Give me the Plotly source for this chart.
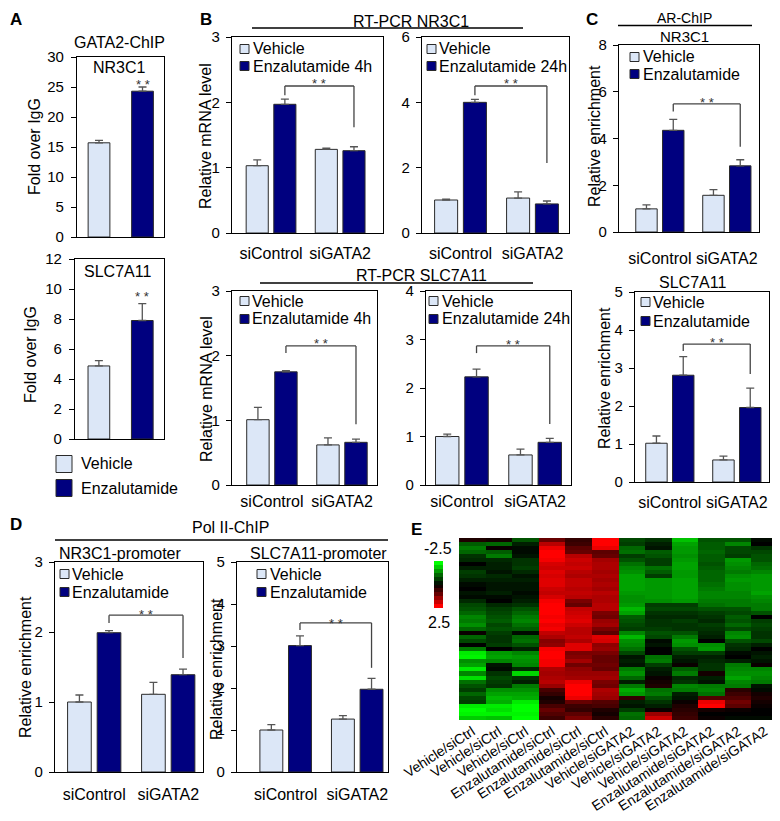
import plotly.graph_objects as go

W, H = 780, 821          # browser window
OX, OY = 8, 8            # default page margin of the html body
FW, FH = W - OX, H - OY  # figure size so that it fits the window exactly
FONT = "Liberation Sans, Arial, sans-serif"
LIGHT = "#DCE7F7"
DARK = "#00007F"
EDGE = "#2a2a2a"
ERRC = "#555555"
SIGC = "#444444"

# ---------------- data ----------------
groups = ["siControl", "siGATA2"]
treatments = ["Vehicle", "Enzalutamide"]

# Panel A (GATA2-ChIP, fold over IgG)
a_nr3c1 = [15.7, 24.3]
a_nr3c1_err = [0.4, 0.7]
a_slc7a11 = [4.87, 7.9]
a_slc7a11_err = [0.35, 1.13]
a_star_y = [26.2, 9.8]

# Panel B (RT-PCR)
b1_veh = [1.03, 1.28]; b1_veh_err = [0.09, 0.02]
b1_enz = [1.97, 1.26]; b1_enz_err = [0.08, 0.06]
b2_veh = [1.01, 1.07]; b2_veh_err = [0.03, 0.19]
b2_enz = [4.00, 0.89]; b2_enz_err = [0.09, 0.09]
b3_veh = [1.01, 0.62]; b3_veh_err = [0.19, 0.11]
b3_enz = [1.75, 0.66]; b3_enz_err = [0.02, 0.05]
b4_veh = [1.00, 0.62]; b4_veh_err = [0.05, 0.12]
b4_enz = [2.23, 0.88]; b4_enz_err = [0.16, 0.08]

# Panel C (AR-ChIP)
c1_veh = [0.99, 1.57]; c1_veh_err = [0.17, 0.24]
c1_enz = [4.35, 2.83]; c1_enz_err = [0.47, 0.26]
c2_veh = [1.02, 0.58]; c2_veh_err = [0.19, 0.10]
c2_enz = [2.81, 1.96]; c2_enz_err = [0.49, 0.51]

# Panel D (Pol II-ChIP)
d1_veh = [1.00, 1.11]; d1_veh_err = [0.10, 0.17]
d1_enz = [1.99, 1.39]; d1_enz_err = [0.03, 0.08]
d2_veh = [1.00, 1.26]; d2_veh_err = [0.13, 0.08]
d2_enz = [3.01, 1.97]; d2_enz_err = [0.23, 0.26]

# significance brackets: [left end, top, right end, star level]
b1_sig = [2.11, 2.25, 1.62, 2.36]
b2_sig = [4.22, 4.50, 2.14, 4.71]
c1_sig = [5.16, 5.48, 3.65, 5.73]
b3_sig = [2.04, 2.15, 0.94, 2.26]
b4_sig = [2.72, 2.87, 1.26, 2.99]
c2_sig = [3.45, 3.63, 2.84, 3.79]
d1_sig = [2.13, 2.24, 1.63, 2.32]
d2_sig = [3.38, 3.55, 2.48, 3.65]

# Panel E heatmap (columns = samples, rows top to bottom)
heat_labels = ["Vehicle/siCtrl", "Vehicle/siCtrl", "Vehicle/siCtrl",
               "Enzalutamide/siCtrl", "Enzalutamide/siCtrl", "Enzalutamide/siCtrl",
               "Vehicle/siGATA2", "Vehicle/siGATA2", "Vehicle/siGATA2",
               "Enzalutamide/siGATA2", "Enzalutamide/siGATA2", "Enzalutamide/siGATA2"]
col01 = [0.3, -0.9, -1.2, -1.0, -0.5, -0.4, 0.0, -0.3, -0.6, -0.5, -0.3, -0.1, 0.0, -0.2, -0.1,
         -0.4, -0.7, -0.8, -1.0, -1.3, -1.2, -1.4, -1.0, 0.1, -1.0, -0.7, 0.0, -1.2, -2.3, -2.4,
         -1.4, -1.6, -2.3, -1.3, -2.2, -1.1, -0.8, -0.6, -1.0, -0.7, -0.6, -2.3, -2.5, -2.4, -2.0]
col02 = [0.2, -1.0, 0.1, -0.9, -1.2, -0.4, -0.3, -0.3, -0.2, -0.4, -0.3, -0.2, -0.2, -0.3, -0.1,
         0.0, -0.4, -0.6, -0.7, -0.8, -0.9, -0.7, -0.8, -0.6, -0.5, -0.5, -0.6, 0.0, -1.5, -1.6,
         -1.3, -0.2, -0.1, -0.5, -0.7, -0.6, -0.5, -1.4, -1.6, -1.8, -1.7, -2.3, -2.2, -2.4, -1.9]
col03 = [-0.8, -0.3, -0.1, -0.1, -0.2, -0.5, -0.5, -0.6, -0.4, -0.2, -0.3, -0.2, -0.2, -0.1, -0.2,
         -0.3, -0.5, -0.8, -1.0, -1.2, -1.3, -1.1, -0.9, -0.1, -1.0, -1.1, -0.8, -0.3, -1.3, -1.5,
         -1.4, -1.3, -0.4, -2.1, -0.5, -0.3, -1.2, -1.4, -1.6, -1.7, -2.3, -2.5, -2.5, -2.4, -2.5]
col04 = [1.0, 1.8, 2.3, 2.5, 2.5, 2.4, 2.1, 2.0, 2.2, 2.1, 2.2, 2.2, 2.0, 1.9, 2.1,
         2.4, 2.5, 2.5, 2.5, 2.4, 2.5, 2.3, 2.4, 1.9, 1.7, 1.3, 1.4, 2.4, 2.5, 2.5,
         2.4, 2.4, 1.7, 1.6, 1.7, 1.8, 1.5, 0.7, 0.5, 0.2, 0.3, 0.7, 1.0, 0.8, 0.6]
col05 = [0.5, 0.6, 0.9, 1.0, 1.8, 2.0, 1.9, 2.0, 1.8, 1.7, 1.9, 1.9, 1.8, 1.9, 1.8,
         1.2, 1.0, 1.9, 2.0, 2.1, 2.2, 2.0, 1.8, 1.8, 1.9, 1.7, 2.2, 2.2, 1.2, 1.3,
         1.6, 1.1, 1.4, 1.5, 1.6, 2.3, 2.5, 2.5, 2.5, 2.3, 1.0, 0.6, 0.5, 0.9, 1.2]
col06 = [2.5, 2.5, 2.3, 0.9, 1.0, 1.6, 1.7, 1.7, 1.6, 1.7, 1.6, 1.7, 1.6, 1.8, 1.7,
         1.7, 1.8, 1.8, 1.2, 1.1, 1.5, 1.6, 1.2, 0.9, 2.2, 2.1, 1.4, 1.5, 1.2, 1.0,
         1.0, 1.1, 1.0, 1.5, 1.6, 1.2, 1.1, 1.7, 1.6, 1.5, 0.8, 0.7, 0.3, 0.2, 0.4]
col07 = [-0.7, -0.6, -1.0, -1.1, -0.6, -0.8, -1.1, -1.3, -1.4, -1.6, -1.6, -1.6, -1.6, -1.5, -1.4,
         -1.4, -1.5, -1.8, -1.6, -0.9, -0.8, -0.7, -0.6, -1.3, -1.8, -1.4, -1.3, -1.1, -0.7, -0.2,
         -0.3, -0.2, -1.2, -1.4, -1.0, -0.3, -1.2, -1.7, -1.5, 0.5, -0.3, -0.2, -0.6, -1.1, -1.0]
col08 = [-0.5, -0.3, -0.2, -0.9, -0.8, -0.6, -0.6, -1.1, -0.9, -0.6, -1.5, -1.5, -1.5, -1.5, -1.5,
         -1.4, -0.6, -0.7, -0.5, -0.4, -0.5, -0.5, -0.6, -0.8, -0.7, -0.1, -0.2, 0.0, 0.0, -1.1,
         -1.2, -0.6, -0.3, -0.2, 0.1, 0.2, 0.3, -1.1, -1.2, -0.8, -0.5, -0.3, 0.1, 1.5, 2.0]
col09 = [-1.9, -1.6, -1.5, -1.5, -1.4, -1.5, -1.6, -1.6, -1.5, -1.5, -1.6, -1.6, -1.6, -1.6, -1.6,
         -1.5, -0.6, -0.7, -0.5, -0.4, -0.6, -0.5, -0.5, -0.8, -1.2, -1.5, -1.4, -0.8, -0.6, -0.3,
         -0.2, 0.1, -0.9, -1.2, -0.4, -0.5, -1.3, -1.2, -0.3, -0.2, 0.1, 0.3, 0.4, 0.5, 0.6]
col10 = [-0.8, -0.9, -0.9, -1.0, -0.9, -0.9, -0.8, -0.9, -1.0, -1.0, -1.0, -1.1, -1.2, -1.3, -1.3,
         -1.2, -1.1, -0.8, -0.6, -0.5, -0.4, -0.6, -0.5, -0.4, -0.3, 0.0, -1.4, -1.5, -0.6, -0.3,
         -0.4, -0.5, -0.5, 0.2, -0.3, -0.2, -1.2, -1.3, -1.1, 0.8, 2.3, 2.5, 0.2, 0.0, 0.1]
col11 = [-0.8, -1.3, -0.7, -0.7, -0.6, -1.5, -1.4, -1.3, -1.2, -1.4, -1.5, -1.4, -1.4, -1.3, -1.3,
         -1.2, -1.2, -0.8, -0.7, -0.9, -0.8, -1.0, -0.7, -1.3, -1.4, -0.8, -0.5, -0.4, -0.1, 0.0,
         -0.3, -1.2, -1.3, -1.4, -1.6, -1.3, -1.2, 0.4, 0.6, 0.8, 1.1, 0.9, 0.1, 0.0, -0.1]
col12 = [-0.1, 0.0, -0.5, -0.7, -0.8, -0.8, -1.0, -1.1, -1.3, -1.5, -1.5, -1.5, -1.5, -1.6, -1.4,
         -1.3, -1.2, -1.2, -0.8, 0.0, -0.6, -0.7, -0.6, -0.5, -0.5, -0.7, -0.3, 0.0, -0.2, -0.3,
         -0.2, 0.1, -1.3, -1.4, -1.3, -1.2, -0.2, -0.1, 0.2, 0.3, 0.2, 0.1, 0.0, 0.0, -0.1]
colorbar_vals = [-2.5, -2.0, -1.5, -1.0, -0.6, -0.2, 0.2, 0.6, 1.0, 1.5, 2.0, 2.5]
colorbar_labels = ["-2.5", "2.5"]

# ---------------- helpers (layout only; arguments are window pixels) ----------------
def px(x):
    return (x - OX) / FW

def py(y):
    return 1 - (y - OY) / FH

def xd(x0, x1):
    return [max(0.0, px(x0)), min(1.0, px(x1))]

def yd(y0, y1):
    return [max(0.0, py(y1)), min(1.0, py(y0))]

def ax_names(n):
    s = "" if n == 1 else str(n)
    return "xaxis" + s, "yaxis" + s, "x" + s, "y" + s

fig = go.Figure()
layout = dict(template="none", width=FW, height=FH,
              margin=dict(l=0, r=0, t=0, b=0, pad=0, autoexpand=False),
              paper_bgcolor="white", plot_bgcolor="white", showlegend=False,
              font=dict(family=FONT, color="black", size=16), barmode="overlay")
shapes = []
annotations = []

def ann(text, x, y, size=16, xanchor="center", yanchor="middle", angle=0, bold=False):
    annotations.append(dict(text=("<b>%s</b>" % text) if bold else text,
                            x=px(x), y=py(y), xref="paper", yref="paper",
                            xanchor=xanchor, yanchor=yanchor, showarrow=False,
                            textangle=angle, font=dict(size=size, family=FONT, color="black")))

def hline(x0, x1, y):
    shapes.append(dict(type="line", xref="paper", yref="paper", x0=px(x0), x1=px(x1),
                       y0=py(y), y1=py(y), line=dict(color="black", width=1.3)))

def swatch_legend(sq_x0, sq_size, rows_y, labels, text_x, size=16, sq_h=None):
    colors = [LIGHT, DARK]
    h = sq_h if sq_h else sq_size
    for cy, lab, col in zip(rows_y, labels, colors):
        shapes.append(dict(type="rect", xref="paper", yref="paper",
                           x0=px(sq_x0), x1=px(sq_x0 + sq_size),
                           y0=py(cy + h / 2), y1=py(cy - h / 2),
                           fillcolor=col, line=dict(color=EDGE, width=1)))
        ann(lab, text_x, cy, size=size, xanchor="left")

def star_ann(x, y, xr_, yr_):
    annotations.append(dict(text="* *", x=x, y=y, xref=xr_, yref=yr_, showarrow=False,
                            yanchor="top", yshift=5,
                            font=dict(size=13, family=FONT, color="#333")))

def axis_common():
    return dict(showline=True, linecolor="black", linewidth=1.2, mirror=True,
                showgrid=False, zeroline=False, fixedrange=True, automargin=False)

BW = 0.32
OFF_V = -0.36
OFF_E = 0.04

def bar_panel(n, xdom, ydom, xr, yr, dtick, veh, veh_err, enz, enz_err, sig, standoff):
    xa, ya, xr_, yr_ = ax_names(n)
    fig.add_trace(go.Bar(x=groups, y=veh, name=treatments[0], xaxis=xr_, yaxis=yr_,
                         offset=OFF_V, width=BW,
                         marker=dict(color=LIGHT, line=dict(color=EDGE, width=1)),
                         error_y=dict(type="data", array=veh_err, arrayminus=[0] * len(veh),
                                      symmetric=False, color=ERRC, thickness=1.3, width=4)))
    fig.add_trace(go.Bar(x=groups, y=enz, name=treatments[1], xaxis=xr_, yaxis=yr_,
                         offset=OFF_E, width=BW,
                         marker=dict(color=DARK, line=dict(color=EDGE, width=1)),
                         error_y=dict(type="data", array=enz_err, arrayminus=[0] * len(enz),
                                      symmetric=False, color=ERRC, thickness=1.3, width=4)))
    layout[xa] = dict(domain=xdom, range=xr, type="category", categoryorder="array",
                      categoryarray=groups, anchor=yr_, ticks="", ticklabelstandoff=standoff,
                      tickangle=0,
                      tickfont=dict(size=16, family=FONT, color="black"), **axis_common())
    layout[ya] = dict(domain=ydom, range=yr, dtick=dtick, tick0=0, anchor=xr_,
                      ticks="outside", ticklen=5, tickwidth=1, tickcolor="black",
                      ticklabelstandoff=3,
                      tickfont=dict(size=15, family=FONT, color="black"), **axis_common())
    if sig is not None:
        xl = 0 + OFF_E + BW / 2
        xrt = 1 + OFF_E + BW / 2
        left, top, right, star = sig
        for (x0, y0, x1, y1) in [(xl, left, xl, top), (xl, top, xrt, top), (xrt, top, xrt, right)]:
            shapes.append(dict(type="line", xref=xr_, yref=yr_, x0=x0, y0=y0, x1=x1, y1=y1,
                               line=dict(color=SIGC, width=1.3)))
        star_ann((xl + xrt) / 2, star, xr_, yr_)

def a_panel(n, xdom, ydom, xr, yr, dtick, vals, errs, star):
    xa, ya, xr_, yr_ = ax_names(n)
    cols = [LIGHT, DARK]
    for t, v, e, c in zip(treatments, vals, errs, cols):
        fig.add_trace(go.Bar(x=[t], y=[v], name=t, xaxis=xr_, yaxis=yr_, width=0.5,
                             marker=dict(color=c, line=dict(color=EDGE, width=1)),
                             error_y=dict(type="data", array=[e], arrayminus=[0], symmetric=False,
                                          color=ERRC, thickness=1.3, width=4)))
    layout[xa] = dict(domain=xdom, range=xr, type="category", categoryorder="array",
                      categoryarray=treatments, anchor=yr_, ticks="", showticklabels=False,
                      **axis_common())
    layout[ya] = dict(domain=ydom, range=yr, dtick=dtick, tick0=0, anchor=xr_,
                      ticks="outside", ticklen=5, tickwidth=1, tickcolor="black",
                      ticklabelstandoff=4,
                      tickfont=dict(size=15, family=FONT, color="black"), **axis_common())
    star_ann(1, star, xr_, yr_)

# ---------------- Panel A ----------------
a_panel(1, xd(77, 164), yd(57, 237), [-0.506, 1.494], [0, 30], 5, a_nr3c1, a_nr3c1_err, a_star_y[0])
a_panel(2, xd(75, 164), yd(259, 439), [-0.55, 1.5], [0, 12], 2, a_slc7a11, a_slc7a11_err, a_star_y[1])
ann("A", 8, 8, size=17, bold=True, xanchor="left", yanchor="top")
ann("GATA2-ChIP", 120, 43)
ann("NR3C1", 119, 67)
ann("SLC7A11", 117, 271)
ann("Fold over IgG", 34, 147, angle=-90)
ann("Fold over IgG", 30, 355, angle=-90)
swatch_legend(56, 16, [464, 488], ["Vehicle", "Enzalutamide"], 79, size=16, sq_h=17)

# ---------------- Panel B ----------------
bar_panel(3, xd(232, 383), yd(37, 233), [-0.565, 1.62], [0, 3], 1, b1_veh, b1_veh_err, b1_enz, b1_enz_err, b1_sig, 6)
bar_panel(4, xd(422, 569), yd(37, 233), [-0.535, 1.507], [0, 6], 2, b2_veh, b2_veh_err, b2_enz, b2_enz_err, b2_sig, 6)
bar_panel(6, xd(232, 377), yd(291, 485), [-0.57, 1.5], [0, 3], 1, b3_veh, b3_veh_err, b3_enz, b3_enz_err, b3_sig, 2)
bar_panel(7, xd(426, 571), yd(291, 485), [-0.49, 1.49], [0, 4], 1, b4_veh, b4_veh_err, b4_enz, b4_enz_err, b4_sig, 2)
ann("B", 206, 8, size=17, bold=True, yanchor="top")
ann("RT-PCR NR3C1", 411, 21)
hline(252, 523, 28)
ann("RT-PCR SLC7A11", 421, 275)
hline(260, 533, 283)
ann("Relative mRNA level", 206, 136, angle=-90)
ann("Relative mRNA level", 206, 389, angle=-90)
swatch_legend(240, 9, [49, 66], ["Vehicle", "Enzalutamide 4h"], 251)
swatch_legend(427, 9, [49, 66], ["Vehicle", "Enzalutamide 24h"], 437)
swatch_legend(240, 9, [301, 319], ["Vehicle", "Enzalutamide 4h"], 250)
swatch_legend(429, 9, [301, 319], ["Vehicle", "Enzalutamide 24h"], 440)

# ---------------- Panel C ----------------
bar_panel(5, xd(619, 759), yd(45, 232), [-0.61, 1.48], [0, 8], 2, c1_veh, c1_veh_err, c1_enz, c1_enz_err, c1_sig, 12)
bar_panel(8, xd(635, 769), yd(292, 482), [-0.52, 1.48], [0, 5], 1, c2_veh, c2_veh_err, c2_enz, c2_enz_err, c2_sig, 6)
ann("C", 592, 8, size=17, bold=True, yanchor="top")
ann("AR-ChIP", 684, 8, size=14, yanchor="top")
hline(618, 752, 25.5)
ann("NR3C1", 684, 26, size=15, yanchor="top")
ann("SLC7A11", 692, 282)
ann("Relative enrichment", 595, 136, angle=-90)
ann("Relative enrichment", 604, 378, angle=-90)
swatch_legend(630, 9, [57, 74], ["Vehicle", "Enzalutamide"], 641)
swatch_legend(641, 9, [302, 321], ["Vehicle", "Enzalutamide"], 651)

# ---------------- Panel D ----------------
bar_panel(9, xd(55, 203), yd(562, 772), [-0.53, 1.47], [0, 3], 1, d1_veh, d1_veh_err, d1_enz, d1_enz_err, d1_sig, 8)
bar_panel(10, xd(237, 388), yd(562, 772), [-0.68, 1.43], [0, 5], 1, d2_veh, d2_veh_err, d2_enz, d2_enz_err, d2_sig, 8)
ann("D", 8, 524, size=17, bold=True, xanchor="left")
ann("Pol II-ChIP", 230, 527)
hline(55, 388, 540)
ann("NR3C1-promoter", 57, 553, xanchor="left")
ann("SLC7A11-promoter", 248, 553, xanchor="left")
ann("Relative enrichment", 25, 667, angle=-90)
ann("Relative enrichment", 216, 669, angle=-90)
swatch_legend(60, 9, [574, 592], ["Vehicle", "Enzalutamide"], 70)
swatch_legend(257, 9, [574, 592], ["Vehicle", "Enzalutamide"], 268)

# ---------------- Panel E ----------------
cols = [col01, col02, col03, col04, col05, col06, col07, col08, col09, col10, col11, col12]
z = [list(row) for row in zip(*cols)]
CS = [[0.0, "#00FF00"], [0.5, "#000000"], [1.0, "#FF0000"]]
xa, ya, xr_, yr_ = ax_names(11)
fig.add_trace(go.Heatmap(z=z, x=list(range(len(heat_labels))), y=list(range(len(col01))),
                         colorscale=CS, zmin=-2.5, zmax=2.5, showscale=False,
                         xaxis=xr_, yaxis=yr_))
layout[xa] = dict(domain=xd(459, 778), range=[-0.5, 11.5], anchor=yr_, tickmode="array",
                  tickvals=list(range(len(heat_labels))), ticktext=heat_labels, tickangle=-33,
                  ticks="", showline=False, showgrid=False, zeroline=False, ticklabelstandoff=0,
                  automargin=False,
                  tickfont=dict(size=14, family=FONT, color="black"), fixedrange=True)
layout[ya] = dict(domain=yd(538, 720), range=[len(col01) - 0.5, -0.5], anchor=xr_,
                  showticklabels=False, ticks="", showline=False, showgrid=False,
                  zeroline=False, fixedrange=True, automargin=False)

xa, ya, xr_, yr_ = ax_names(12)
fig.add_trace(go.Heatmap(z=[[v] for v in colorbar_vals], x=[0], y=list(range(len(colorbar_vals))),
                         colorscale=CS, zmin=-2.5, zmax=2.5, showscale=False,
                         xaxis=xr_, yaxis=yr_))
layout[xa] = dict(domain=xd(434, 443), range=[-0.5, 0.5], anchor=yr_, showticklabels=False,
                  ticks="", showline=False, showgrid=False, zeroline=False, fixedrange=True,
                  automargin=False)
layout[ya] = dict(domain=yd(561, 608), range=[len(colorbar_vals) - 0.5, -0.5], anchor=xr_,
                  showticklabels=False, ticks="", showline=False, showgrid=False,
                  zeroline=False, fixedrange=True, automargin=False)
ann(colorbar_labels[0], 438, 548)
ann(colorbar_labels[1], 439, 622)
ann("E", 416, 529, size=17, bold=True)

layout["shapes"] = shapes
layout["annotations"] = annotations
fig.update_layout(**layout)
fig.write_html("out.html")
